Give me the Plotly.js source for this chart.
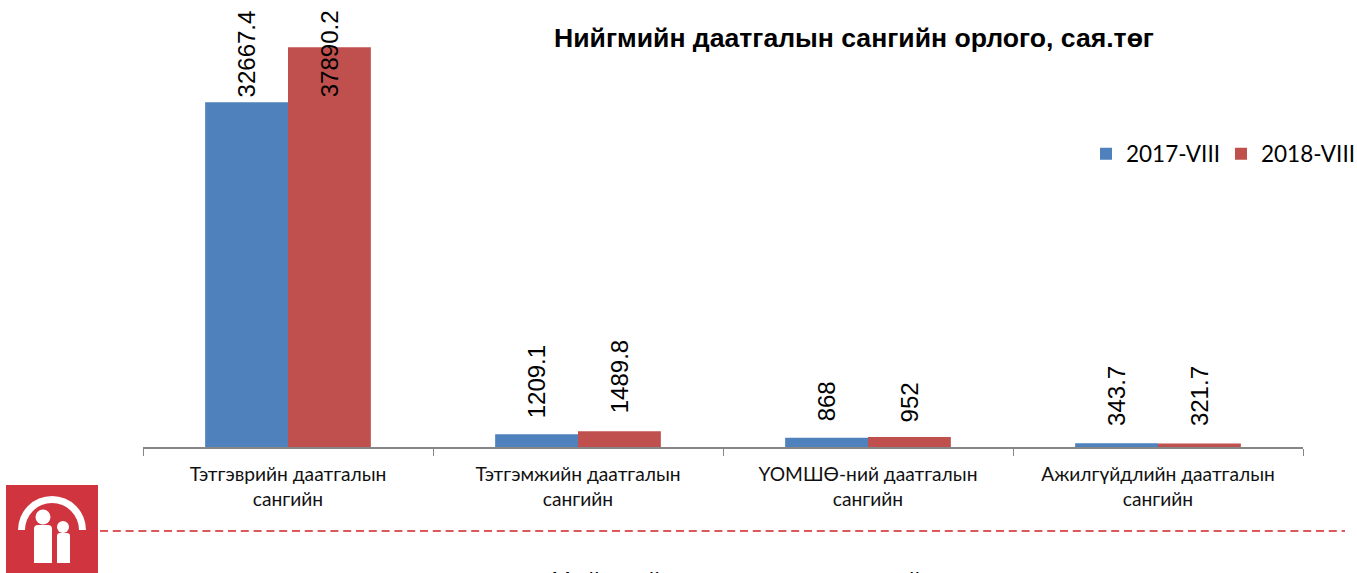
<!DOCTYPE html>
<html>
<head>
<meta charset="utf-8">
<script src="https://cdn.plot.ly/plotly-3.0.1.min.js"></script>
<style>html,body{margin:0;padding:0;background:#fff;overflow:hidden}#c{width:1357px;height:573px}</style>
</head>
<body>
<div id="c"></div>
<script>
const categories = ['Тэтгэврийн даатгалын<br>сангийн','Тэтгэмжийн даатгалын<br>сангийн','ҮОМШӨ-ний даатгалын<br>сангийн','Ажилгүйдлийн даатгалын<br>сангийн'];
const series2017 = [32667.4, 1209.1, 868, 343.7];
const series2018 = [37890.2, 1489.8, 952, 321.7];
const name2017 = '2017-VIII';
const name2018 = '2018-VIII';
const titleText = 'Нийгмийн даатгалын сангийн орлого, сая.төг';
const footerText = 'Нийгмийн даатгалын ерөнхий газар';
const gaps2017 = [5, 16, 16, 17];
const gaps2018 = [-50, 18, 15, 18];

const W = 1357, H = 573, L = 143, R = 1303, T = 25, B = 447;
const px = v => (v - L) / (R - L);
const py = v => (B - v) / (B - T);

function labels(vals, gaps, off) {
  return vals.map((v, i) => ({
    x: i + off, y: v, xref: 'x', yref: 'y', text: String(v), textangle: -90,
    showarrow: false, yanchor: 'bottom', xanchor: 'center', yshift: gaps[i],
    font: {family: 'Liberation Sans', size: 24, color: '#000'}, borderpad: 0, borderwidth: 0
  }));
}

const logo = 'data:image/svg+xml;utf8,' + encodeURIComponent(
 '<svg xmlns="http://www.w3.org/2000/svg" width="92" height="88" viewBox="0 0 92 88">' +
 '<rect width="92" height="88" fill="#d0343f"/>' +
 '<path d="M12 45A34 34 0 0 1 80 45H73A27 27 0 0 0 19 45Z" fill="#fff"/>' +
 '<circle cx="37" cy="32" r="7.5" fill="#fff"/>' +
 '<path d="M28 78V44Q28 40 32 40H42Q46 40 46 44V78Z" fill="#fff"/>' +
 '<circle cx="57" cy="42" r="6" fill="#fff"/>' +
 '<path d="M51 78V51Q51 48 54 48H61Q64 48 64 51V78Z" fill="#fff"/></svg>');

const data = [
  {type:'bar', name:name2017, x:categories, y:series2017, marker:{color:'#4f81bd'}, cliponaxis:false},
  {type:'bar', name:name2018, x:categories, y:series2018, marker:{color:'#c0504d'}, cliponaxis:false}
];
const layout = {
  width:W, height:H, paper_bgcolor:'#fff', plot_bgcolor:'#fff',
  margin:{l:L, r:W-R, t:T, b:H-B, pad:0, autoexpand:false},
  barmode:'group', bargap:0.4286, bargroupgap:0,
  font:{family:'Lato', color:'#000'},
  title:{text:titleText, font:{family:'Liberation Sans', size:26.6, color:'#000', weight:700}, x:854/W, xanchor:'center', y:1-38/H, yanchor:'middle'},
  xaxis:{type:'category', tickson:'boundaries', ticks:'outside', ticklen:7, tickcolor:'#868686', tickwidth:1,
    showline:true, linecolor:'#868686', linewidth:2, tickfont:{family:'Lato', size:19.2, color:'#111'}, ticklabelstandoff:9, showgrid:false, automargin:false, fixedrange:true},
  yaxis:{range:[0,40000], visible:false, showgrid:false, zeroline:false, fixedrange:true},
  legend:{orientation:'h', x:px(1086), y:py(154), xanchor:'left', yanchor:'middle', entrywidth:90, entrywidthmode:'pixels', font:{family:'Lato', size:22.5, color:'#000'}, bgcolor:'rgba(0,0,0,0)', itemclick:false},
  annotations:[
    ...labels(series2017, gaps2017, -0.143),
    ...labels(series2018, gaps2018, 0.143),
    {xref:'paper', yref:'paper', x:px(772), y:py(564), yanchor:'top', xanchor:'center', showarrow:false, text:footerText, font:{family:'Lato', size:26.5, color:'#000'}, borderpad:0}
  ],
  shapes:[{type:'line', xref:'paper', yref:'paper', x0:px(100), x1:px(1345), y0:py(531), y1:py(531), line:{color:'#d9595c', width:2, dash:'8px,4.8px'}}],
  images:[{source:logo, xref:'paper', yref:'paper', x:px(6), y:py(485), sizex:92/(R-L), sizey:88/(B-T), xanchor:'left', yanchor:'top', sizing:'stretch', layer:'above'}]
};
Plotly.newPlot('c', data, layout, {displayModeBar:false, staticPlot:true});
</script>
</body>
</html>
